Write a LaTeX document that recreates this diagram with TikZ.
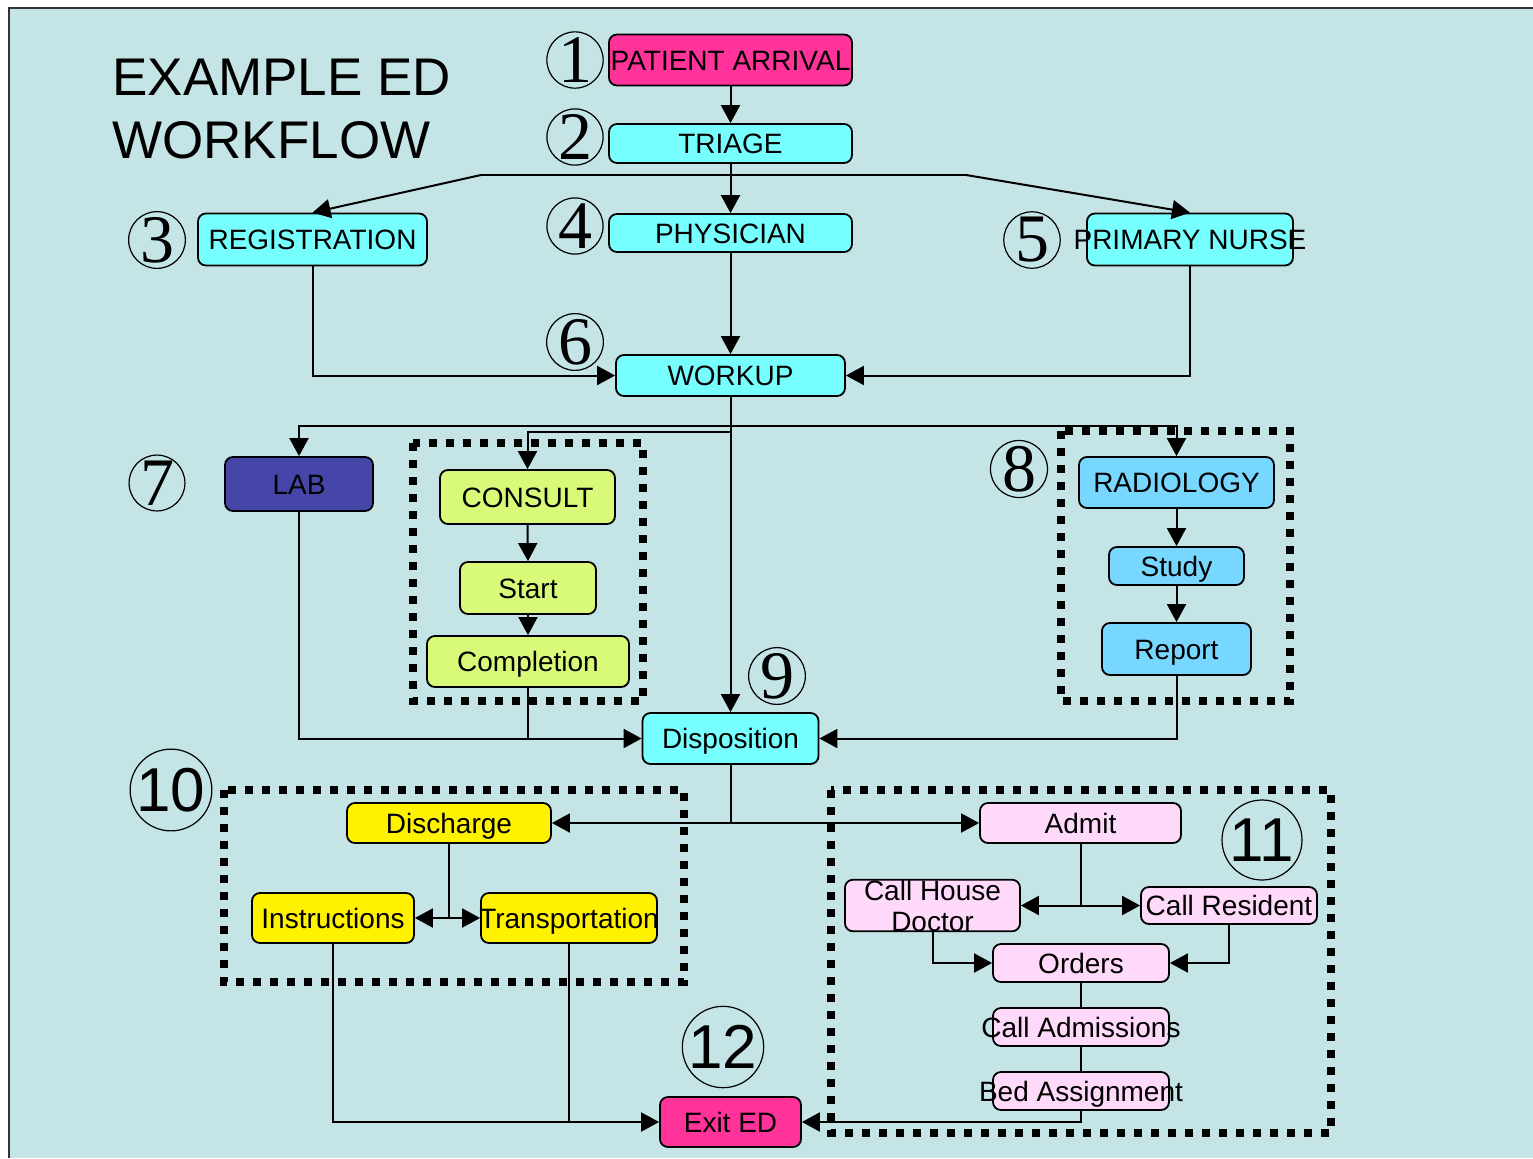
\documentclass[tikz,border=0pt]{standalone}
\usepackage{fontspec}
\setmainfont{Liberation Sans}
\newfontfamily\serifnum{Liberation Serif}
\usetikzlibrary{arrows.meta}
\definecolor{bgc}{RGB}{196,228,230}
\definecolor{hotpink}{RGB}{255,51,153}
\definecolor{cyanbox}{RGB}{119,255,255}
\definecolor{labblue}{RGB}{70,70,168}
\definecolor{consgreen}{RGB}{217,250,120}
\definecolor{radblue}{RGB}{119,215,255}
\definecolor{admpink}{RGB}{255,217,250}
\definecolor{framegray}{RGB}{50,50,50}
\newcommand{\ovr}[1]{\makebox[0pt][c]{#1}}
\begin{document}
\begin{tikzpicture}[x={(0.5pt,0pt)},y={(0pt,-0.5pt)},
  bxbase/.style={draw, rounded corners=4pt, line width=0.9pt, inner sep=0pt,
    font=\fontsize{14}{15.5}\selectfont, align=center},
  bx/.style={bxbase, text height=10pt, text depth=0pt},
  arr/.style={line width=1pt, -{Triangle[length=9pt,width=9.5pt]}},
  ln/.style={line width=1pt},
  dotbox/.style={line width=3.8pt, dash pattern=on 3.8pt off 4.7pt},
  cn/.style={circle, draw, line width=0.6pt, minimum size=27pt, inner sep=0pt,
    font=\serifnum\fontsize{34}{34}\selectfont},
  cnb/.style={circle, draw, line width=0.6pt, minimum size=40pt, inner sep=0pt,
    font=\fontsize{31}{31}\selectfont},
  ttl/.style={anchor=base west, inner sep=0pt, font=\fontsize{26.5}{30}\selectfont}
]
\useasboundingbox (0,0) rectangle (1533,1158);
\fill[white] (0,0) rectangle (1533,1158);
\fill[bgc] (9,8) rectangle (1533,1158);
\draw[framegray, line width=1pt] (9,1158) -- (9,8) -- (1533,8);

% title
\node[ttl] (t1) at (112,95) {EXAMPLE ED};
\node[ttl] (t2) at (112,158) {WORKFLOW};

% dotted group boxes
\draw[dotbox] (413,443) rectangle (643,701);
\draw[dotbox] (1061,431) rectangle (1290,701);
\draw[dotbox] (224,790) rectangle (684,982);
\draw[dotbox] (831,790) rectangle (1331,1133);

% nodes
\node[bx, fill=hotpink, minimum width=121.5pt, minimum height=25.5pt] (pa) at (730.5,60) {\ovr{PATIENT ARRIVAL}};
\node[bx, fill=cyanbox, minimum width=121.5pt, minimum height=19.5pt] (tri) at (730.5,143.5) {TRIAGE};
\node[bx, fill=cyanbox, minimum width=121.5pt, minimum height=19pt] (phy) at (730.5,233) {PHYSICIAN};
\node[bx, fill=cyanbox, minimum width=114.5pt, minimum height=26pt] (reg) at (312.5,239.5) {REGISTRATION};
\node[bx, fill=cyanbox, minimum width=103pt, minimum height=26pt] (pn) at (1190,239.5) {\ovr{PRIMARY NURSE}};
\node[bx, fill=cyanbox, minimum width=114.5pt, minimum height=20.5pt] (work) at (730.5,375.5) {WORKUP};
\node[bx, fill=labblue, minimum width=74pt, minimum height=27pt] (lab) at (299,484) {LAB};
\node[bx, fill=consgreen, minimum width=87.5pt, minimum height=27pt] (con) at (527.5,497) {CONSULT};
\node[bx, fill=consgreen, minimum width=68pt, minimum height=26pt] (start) at (528,588) {Start};
\node[bx, fill=consgreen, minimum width=101pt, minimum height=25.5pt] (comp) at (528,661.5) {Completion};
\node[bx, fill=radblue, minimum width=97.5pt, minimum height=25.5pt] (rad) at (1176.5,482.5) {RADIOLOGY};
\node[bx, fill=radblue, minimum width=67.5pt, minimum height=19pt] (study) at (1176.5,566) {Study};
\node[bx, fill=radblue, minimum width=74.5pt, minimum height=26pt] (rep) at (1176.5,649) {Report};
\node[bx, fill=cyanbox, minimum width=88pt, minimum height=25.5pt] (disp) at (730.5,738.5) {Disposition};
\node[bx, fill=yellow, minimum width=102pt, minimum height=20pt] (dis) at (449,823) {Discharge};
\node[bx, fill=yellow, minimum width=81pt, minimum height=25pt] (ins) at (333,918) {Instructions};
\node[bx, fill=yellow, minimum width=88pt, minimum height=25pt] (trans) at (569,918) {\ovr{Transportation}};
\node[bx, fill=admpink, minimum width=100.5pt, minimum height=20pt] (adm) at (1080.5,823) {Admit};
\node[bxbase, fill=admpink, minimum width=87.5pt, minimum height=25.5pt] (chd) at (932.5,905.5) {Call House\\Doctor};
\node[bx, fill=admpink, minimum width=88pt, minimum height=18.5pt] (cres) at (1229,905.5) {\ovr{Call Resident}};
\node[bx, fill=admpink, minimum width=88pt, minimum height=19pt] (ord) at (1081,963) {Orders};
\node[bx, fill=admpink, minimum width=88pt, minimum height=19pt] (cadm) at (1081,1027) {\ovr{Call Admissions}};
\node[bx, fill=admpink, minimum width=88pt, minimum height=19pt] (bed) at (1081,1091) {\ovr{Bed Assignment}};
\node[bx, fill=hotpink, minimum width=70.5pt, minimum height=25pt] (exit) at (730.5,1122) {Exit ED};

% circled numbers
\node[cn] (n1) at (575,60) {1};
\node[cn] (n2) at (575,137) {2};
\node[cn] (n3) at (157,240) {3};
\node[cn] (n4) at (575,226) {4};
\node[cn] (n5) at (1032,240) {5};
\node[cn] (n6) at (575,342) {6};
\node[cn] (n7) at (157,483) {7};
\node[cn] (n8) at (1019,469) {8};
\node[cn] (n9) at (777,676) {9};
\node[cnb] (n10) at (171,790) {10};
\node[cnb] (n11) at (1262,840) {11};
\node[cnb] (n12) at (723,1047) {12};

% junction coordinates
\coordinate (jl) at (481,175);
\coordinate (jr) at (966,175);
\coordinate (wa) at (730.5,426);
\coordinate (wb) at (730.5,432);

% connectors
\draw[arr] (pa.south) -- (tri.north);
\draw[arr] (tri.south) -- (phy.north);
\draw[ln] (jl) -- (jr);
\draw[arr] (jl) -- (reg.north);
\draw[arr] (jr) -- (pn.north);
\draw[arr] (reg.south) |- (work.west);
\draw[arr] (pn.south) |- (work.east);
\draw[arr] (phy.south) -- (work.north);
\draw[arr] (work.south) -- (disp.north);
\draw[arr] (wa) -| (lab.north);
\draw[arr] (wb) -| (con.north);
\draw[arr] (wa) -| (rad.north);
\draw[arr] (con.south) -- (start.north);
\draw[arr] (start.south) -- (comp.north);
\draw[arr] (rad.south) -- (study.north);
\draw[arr] (study.south) -- (rep.north);
\draw[arr] (lab.south) |- (disp.west);
\draw[ln] (comp.south) -- (comp.south |- disp.west);
\draw[arr] (rep.south) |- (disp.east);
\draw[arr] (disp.south) |- (dis.east);
\draw[arr] (disp.south) |- (adm.west);
\draw[arr] (dis.south) |- (ins.east);
\draw[arr] (dis.south) |- (trans.west);
\draw[arr] (ins.south) |- (exit.west);
\draw[ln] (trans.south) -- (trans.south |- exit.west);
\draw[arr] (adm.south) |- (chd.east);
\draw[arr] (adm.south) |- (cres.west);
\draw[arr] (chd.south) |- (ord.west);
\draw[arr] (cres.south) |- (ord.east);
\draw[ln] (ord.south) -- (cadm.north);
\draw[ln] (cadm.south) -- (bed.north);
\draw[arr] (bed.south) |- (exit.east);
\end{tikzpicture}
\end{document}
